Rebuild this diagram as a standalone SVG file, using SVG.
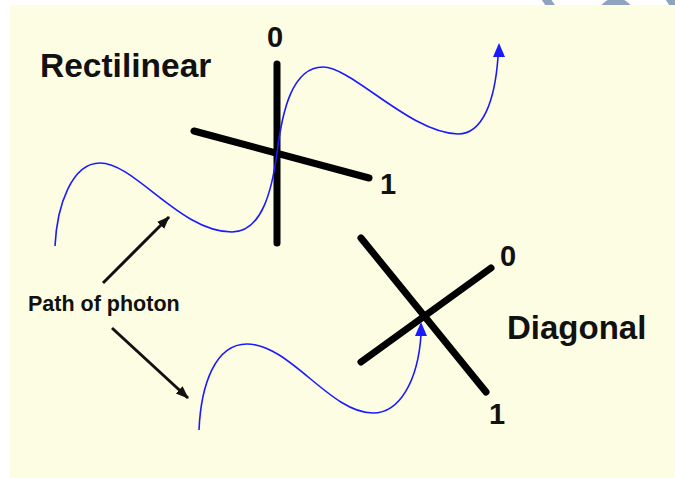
<svg xmlns="http://www.w3.org/2000/svg" width="675" height="478" viewBox="0 0 675 478">
  <style>
    .lbl { font-family: "Liberation Sans", Arial, sans-serif; font-weight: bold; fill: #111; }
    .axis { stroke: #000; stroke-width: 7; stroke-linecap: round; fill: none; }
    .wave { stroke: #1a1aff; stroke-width: 1.6; fill: none; }
    .ptr { stroke: #111; stroke-width: 3; fill: none; }
    .wm { fill: none; stroke: #8fa3bf; stroke-width: 8; }
  </style>
  <defs>
    <marker id="ah" markerUnits="userSpaceOnUse" markerWidth="14" markerHeight="12" refX="12" refY="5" orient="auto">
      <path d="M0,0 L13,5 L0,10 Z" fill="#111"/>
    </marker>
    <clipPath id="topstrip"><rect x="0" y="0" width="675" height="5"/></clipPath>
  </defs>
  <rect x="0" y="0" width="675" height="478" fill="#ffffff"/>
  <g id="watermark" clip-path="url(#topstrip)">
    <path class="wm" d="M540,-10 L552,8"/>
    <circle class="wm" cx="616" cy="16" r="14"/>
    <path class="wm" d="M664,-10 L676,8"/>
  </g>
  <rect id="panel" x="10" y="5" width="665" height="473" fill="#fdfde3"/>

  <g id="rectilinear">
    <line class="axis" x1="277" y1="64" x2="277" y2="243"/>
    <line class="axis" x1="194" y1="131" x2="369" y2="178"/>
    <text class="lbl" x="40" y="77" font-size="33.5">Rectilinear</text>
    <text class="lbl" x="267" y="47" font-size="29">0</text>
    <text class="lbl" x="380" y="194" font-size="29">1</text>
  </g>

  <g id="diagonal">
    <line class="axis" x1="361" y1="238" x2="486" y2="392"/>
    <line class="axis" x1="361" y1="362" x2="491" y2="268"/>
    <text class="lbl" x="507" y="339" font-size="33">Diagonal</text>
    <text class="lbl" x="500" y="266" font-size="29">0</text>
    <text class="lbl" x="489" y="424" font-size="29">1</text>
  </g>

  <g id="path-label">
    <text class="lbl" x="28" y="311" font-size="21.5">Path of photon</text>
  </g>

  <g id="connectors">
    <path class="wave" d="M55,246 C57,205 72,163 100,163 C135,163 180,232 232,232 C262,232 272,190 277,153 C282,112 292,67 323,67 C352,67 410,133 458,134 C483,134 495,100 498,57"/>
    <polygon points="499,43 493,57 505,57" fill="#1a1aff"/>
    <path class="wave" d="M199,430 C201,385 215,344 247,344 C290,344 330,413 373,413 C400,413 418,380 421,335"/>
    <polygon points="421,322 415,336 427,336" fill="#1a1aff"/>
    <line class="ptr" x1="103" y1="283" x2="169" y2="217" marker-end="url(#ah)"/>
    <line class="ptr" x1="112" y1="328" x2="188" y2="398" marker-end="url(#ah)"/>
  </g>
</svg>
